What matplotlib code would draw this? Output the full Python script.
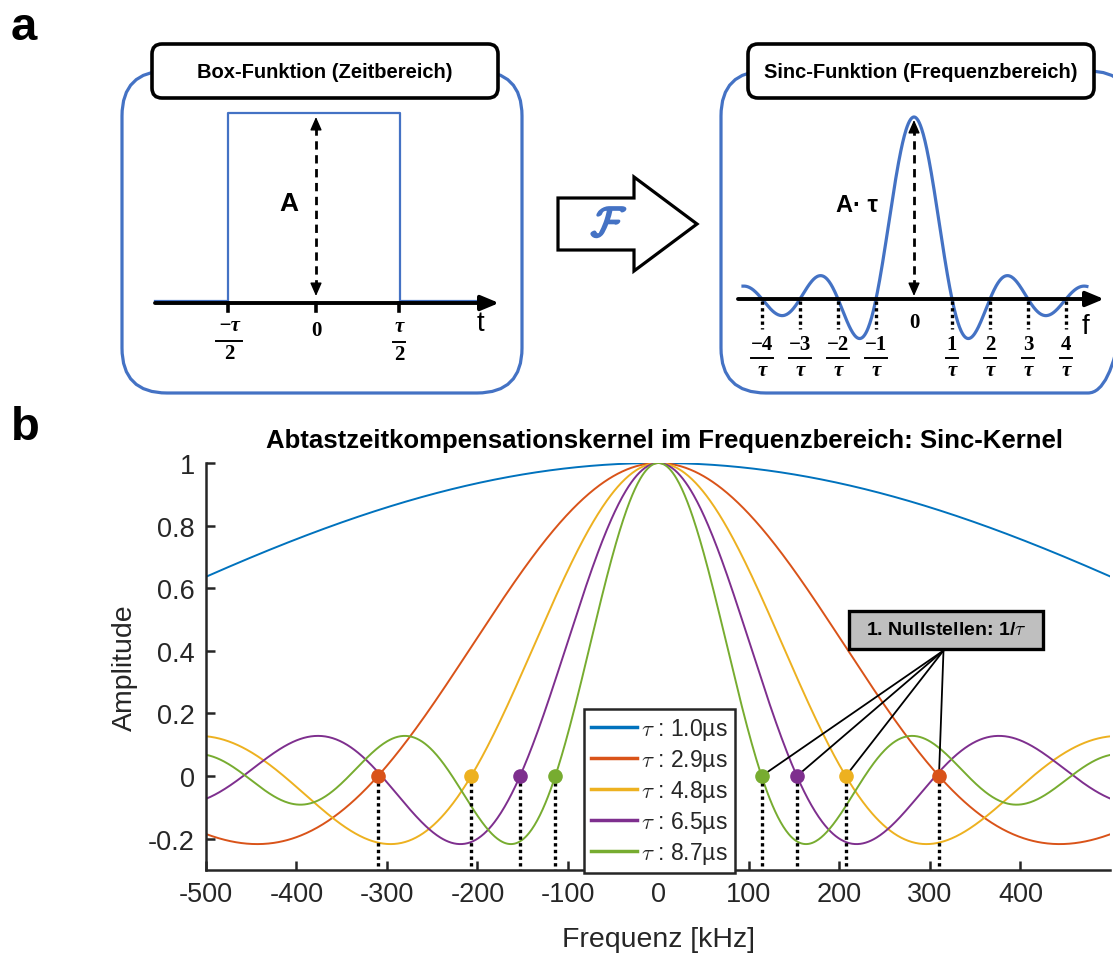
import numpy as np
import matplotlib.pyplot as plt
import matplotlib.patheffects as pe
from matplotlib.patches import FancyBboxPatch, Polygon, Rectangle

plt.rcParams["font.family"] = ["Liberation Sans", "DejaVu Sans"]
plt.rcParams["mathtext.fontset"] = "cm"

# ---- panel b data -------------------------------------------------------
freq_lo, freq_hi = -500, 499                 # kHz, axis limits
tau_labels = ["1.0", "2.9", "4.8", "6.5", "8.7"]   # µs, as printed in legend
first_zero_khz = [1000, 310, 207, 153, 114]        # 1/tau
line_colors = ["#0072BD", "#D95319", "#EDB120", "#7E2F8E", "#77AC30"]
xticks = [-500, -400, -300, -200, -100, 0, 100, 200, 300, 400]
yticks = [-0.2, 0, 0.2, 0.4, 0.6, 0.8, 1]
ytick_labels = ["-0.2", "0", "0.2", "0.4", "0.6", "0.8", "1"]
callout_anchor = (315, 0.401)                # kHz, amplitude

# ---- panel a schematic --------------------------------------------------
sinc_ticks = [-4, -3, -2, -1, 1, 2, 3, 4]

BLUE = "#4472C4"
GREY = "#262626"

fig = plt.figure(figsize=(11.13, 9.54), dpi=100)

# ======================= panel b ========================================
ax = fig.add_axes([206 / 1113, 83 / 954, 904 / 1113, 407 / 954])

f = np.arange(freq_lo, freq_hi + 1)
for lab, f0, col in zip(tau_labels, first_zero_khz, line_colors):
    ax.plot(f, np.sinc(f / f0), color=col, lw=1.4, label=rf"$\tau$ : {lab}µs", zorder=2)

for f0, col in zip(first_zero_khz, line_colors):
    if f0 > freq_hi:
        continue
    for s in (-1, 1):
        ax.plot([s * f0, s * f0], [0, -0.3], color="k", lw=2.4,
                ls=(0, (1, 1)), dash_capstyle="butt", zorder=3)
        ax.plot(s * f0, 0, "o", ms=9.5, color=col, zorder=5)

# callout
for f0 in first_zero_khz[1:]:
    ax.plot([callout_anchor[0], f0], [callout_anchor[1], 0], color="k", lw=1.3, zorder=4)
ax.add_patch(Rectangle((211, 0.407), 213.7, 0.119, facecolor="#bfbfbf",
                       edgecolor="k", lw=2.4, zorder=6))
ax.text(317.8, 0.4667, r"1. Nullstellen: 1/$\tau$", ha="center", va="center",
        fontsize=14, fontweight="bold", zorder=7)

ax.set_xlim(freq_lo, freq_hi)
ax.set_ylim(-0.3, 1)
ax.set_xticks(xticks)
ax.set_xticklabels([str(t) for t in xticks])
ax.set_yticks(yticks)
ax.set_yticklabels(ytick_labels)
for side in ("top", "right"):
    ax.spines[side].set_visible(False)
for side in ("left", "bottom"):
    ax.spines[side].set_linewidth(1.8)
    ax.spines[side].set_color(GREY)
ax.tick_params(direction="in", length=6.5, width=1.8, color=GREY,
               labelcolor=GREY, labelsize=19.5, pad=8)

ax.set_xlabel("Frequenz [kHz]", fontsize=20.5, color=GREY, va="center")
ax.xaxis.set_label_coords(0.5, -0.1695)
ax.set_ylabel("Amplitude", fontsize=20.5, color=GREY, va="center")
ax.yaxis.set_label_coords(-0.0896, 0.5)
ax.set_title("Abtastzeitkompensationskernel im Frequenzbereich: Sinc-Kernel",
             fontsize=18.5, fontweight="bold", x=0.507, y=1.0565, pad=0, va="center")

leg = ax.legend(loc="upper left", bbox_to_anchor=(0.418, 0.3956), borderaxespad=0,
                fontsize=16.5, handlelength=2.0, handletextpad=0.2, labelspacing=0.22,
                borderpad=0.3, fancybox=False, framealpha=1, edgecolor=GREY)
leg.get_frame().set_linewidth(1.8)
for t in leg.get_texts():
    t.set_color(GREY)
for h in leg.legend_handles:
    h.set_linewidth(2.5)

# ======================= panel a (pixel space overlay) ==================
ov = fig.add_axes([0, 0, 1, 1])
ov.set_xlim(0, 1113)
ov.set_ylim(954, 0)
ov.axis("off")

ov.text(11, 40, "a", fontsize=34, fontweight="bold", va="baseline")
ov.text(11, 440, "b", fontsize=34, fontweight="bold", va="baseline")

serif = ["Liberation Serif", "DejaVu Serif"]


def arrow(x0, y0, x1, y1, lw=2.8):
    ov.annotate("", xy=(x1, y1), xytext=(x0, y0),
                arrowprops=dict(arrowstyle="-|>,head_length=0.6,head_width=0.25",
                                lw=lw, color="k", shrinkA=0, shrinkB=0,
                                mutation_scale=18))


def dashed_arrow(x, y_bot, y_top):
    ov.plot([x, x], [y_bot - 8, y_top + 8], color="k", lw=2, ls=(0, (3, 2)))
    for y0, y1 in ((y_top + 9, y_top), (y_bot - 9, y_bot)):
        ov.annotate("", xy=(x, y1), xytext=(x, y0),
                    arrowprops=dict(arrowstyle="-|>,head_length=0.5,head_width=0.22",
                                    lw=1, color="k", shrinkA=0, shrinkB=0,
                                    mutation_scale=16))


def frac(x, num, bar_w, y_num=326, y_bar=342, y_den=354, den="2"):
    ov.text(x, y_num, num, ha="center", va="center", fontsize=15,
            fontweight="bold", family=serif, style="italic" if "τ" in num else "normal")
    ov.plot([x - bar_w / 2, x + bar_w / 2], [y_bar, y_bar], color="k", lw=1.4)
    ov.text(x, y_den, den, ha="center", va="center", fontsize=15,
            fontweight="bold", family=serif, style="italic" if den == "τ" else "normal")


for dx, w in ((0, 400), (599, 412)):
    ov.add_patch(FancyBboxPatch((122 + dx, 72), w, 322,
                                boxstyle="round,pad=0,rounding_size=45",
                                ec=BLUE, fc="none", lw=2.3))
    ov.add_patch(FancyBboxPatch((152 + dx - (3 if dx else 0), 45), 346, 54,
                                boxstyle="round,pad=0,rounding_size=10",
                                ec="k", fc="white", lw=2.6, zorder=3))

ov.text(325, 73, "Box-Funktion (Zeitbereich)", ha="center", va="center",
        fontsize=14.5, fontweight="bold", zorder=4)
ov.text(921, 72, "Sinc-Funktion (Frequenzbereich)", ha="center", va="center",
        fontsize=14.5, fontweight="bold", zorder=4)

# box function
ov.plot([155, 228, 228, 400, 400, 483], [301.5, 301.5, 114, 114, 301.5, 301.5],
        color=BLUE, lw=1.6)
arrow(155, 304, 499, 304)
for x in (228, 316, 399):
    ov.plot([x, x], [304, 312], color="k", lw=2.6)
dashed_arrow(316, 297, 118)
ov.text(289, 204, "A", fontsize=19, fontweight="bold", ha="center", va="center")
frac(229, "−τ", 26)
ov.text(316, 331, "0", ha="center", va="center", fontsize=15, fontweight="bold", family=serif)
frac(399, "τ", 12, y_num=327, y_bar=343, y_den=355)
ov.text(480, 324, "t", fontsize=20, ha="center", va="center")

# Fourier arrow
ov.add_patch(Polygon([(558, 199), (634, 199), (634, 178), (697, 225),
                      (634, 272), (634, 251), (558, 251)],
                     closed=True, fc="white", ec="k", lw=2.3))
ov.text(609, 226, r"$\mathcal{F}$", color=BLUE, fontsize=30, ha="center", va="center",
        path_effects=[pe.withStroke(linewidth=1.6, foreground=BLUE)])

# sinc function
u = np.linspace(-4.5, 4.55, 600)
arrow(738, 300, 1104, 300)
ov.plot(914 + 38 * u, 300 - 182 * np.sinc(u), color=BLUE, lw=2.3)
dashed_arrow(914, 297, 121)
for k in sinc_ticks:
    xk = 914 + 38 * k
    ov.plot([xk, xk], [302, 330], color="k", lw=2.4, ls=(0, (1, 1)), dash_capstyle="butt")
    num = f"−{abs(k)}" if k < 0 else str(k)
    frac(xk, num, 22 if k < 0 else 12, y_num=345, y_bar=359, y_den=371, den="τ")
ov.text(914, 323, "0", ha="center", va="center", fontsize=15, fontweight="bold", family=serif)
ov.text(857, 205, "A· τ", fontsize=17, fontweight="bold", ha="center", va="center")
ov.text(1086, 327, "f", fontsize=20, ha="center", va="center")

fig.savefig("out.png", dpi=100)
